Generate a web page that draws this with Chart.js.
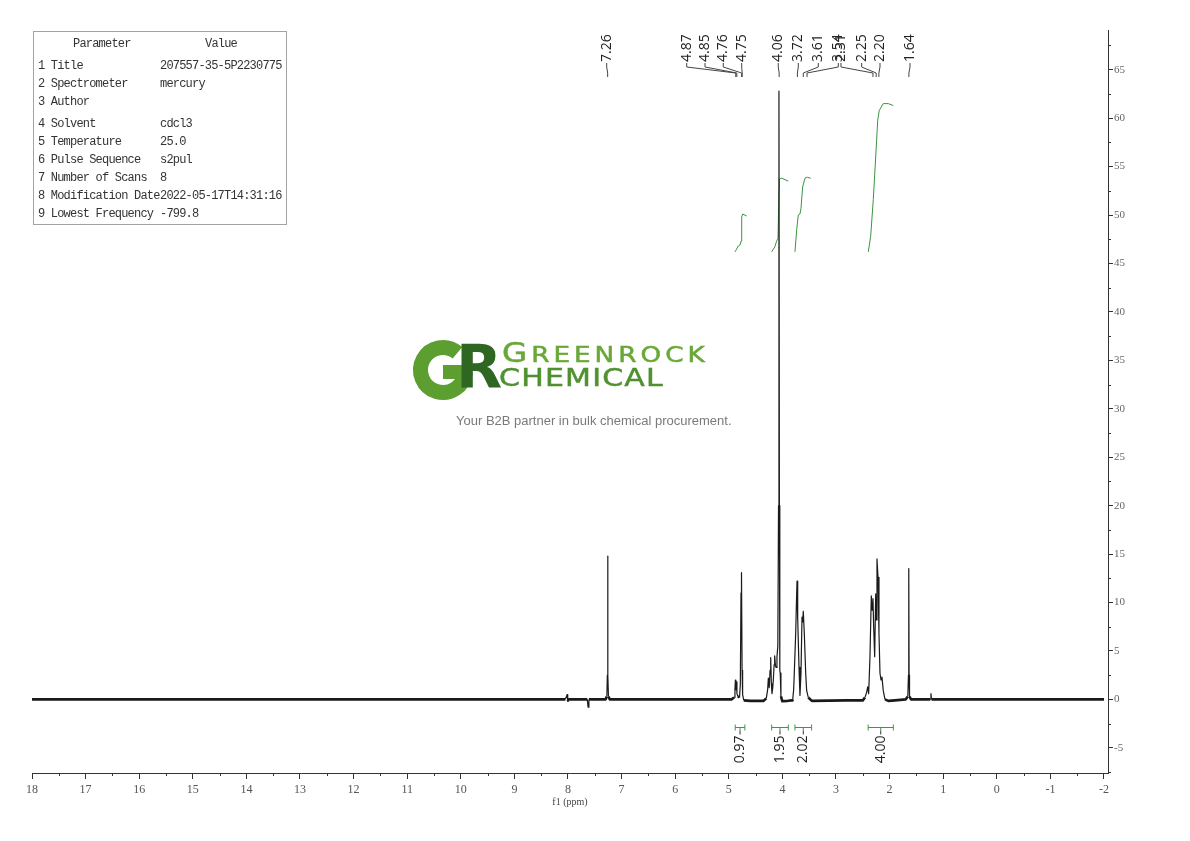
<!DOCTYPE html>
<html>
<head>
<meta charset="utf-8">
<title>1H NMR 207557-35-5</title>
<script src="https://cdn.jsdelivr.net/npm/chart.js@4.4.1/dist/chart.umd.min.js"></script>
<style>
  html, body { margin: 0; padding: 0; background: #fff; }
  #wrap { position: relative; width: 1190px; height: 841px; }
  #c { position: absolute; left: 0; top: 0; }
  #params {
    position: absolute; left: 33px; top: 31px; width: 254px; height: 194px;
    box-sizing: border-box; border: 1px solid #a3a3a3;
    font: 12px "Liberation Mono", monospace; letter-spacing: -0.8px; color: #333;
  }
  #params div { position: absolute; white-space: nowrap; line-height: 14px; }
  #logo { position: absolute; left: 0; top: 0; pointer-events: none; }
  .brand {
    position: absolute; white-space: nowrap; line-height: 1;
    font-family: "DejaVu Sans", sans-serif; transform-origin: 0 0;
    -webkit-text-stroke: 0.5px currentColor;
  }
  #brand1 { left: 502px; top: 340px; font-size: 26px; color: #68a836; letter-spacing: 3.2px; transform: scaleX(1.25); }
  #brand1 span { font-size: 21px; }
  #brand2 { left: 499px; top: 365px; font-size: 25px; color: #4f9030; letter-spacing: 1.0px; transform: scaleX(1.2); }
  #tagline {
    position: absolute; left: 456px; top: 413px; white-space: nowrap;
    font: 13px "Liberation Sans", Arial, sans-serif; color: #7a7a7a;
  }
</style>
</head>
<body>
<div id="wrap">
  <canvas id="c" width="1190" height="841"></canvas>
  <svg id="logo" width="1190" height="841">
    <path d="M 457.5 352.8 A 22.5 22.5 0 1 0 465.4 372" fill="none" stroke="#5c9f30" stroke-width="15"/>
    <rect x="443" y="365" width="27" height="14" fill="#5c9f30"/>
    <text x="456" y="388" font-family="DejaVu Sans" font-weight="bold" font-size="60" fill="#2f6621">R</text>
  </svg>
  <div class="brand" id="brand1">G<span>REENROCK</span></div>
  <div class="brand" id="brand2">CHEMICAL</div>
  <div id="tagline">Your B2B partner in bulk chemical procurement.</div>
  <div id="params"></div>
</div>
<script>
// parameter table
const paramNames = ['1 Title', '2 Spectrometer', '3 Author', '4 Solvent', '5 Temperature',
  '6 Pulse Sequence', '7 Number of Scans', '8 Modification Date', '9 Lowest Frequency'];
const paramValues = ['207557-35-5P2230775', 'mercury', '', 'cdcl3', '25.0',
  's2pul', '8', '2022-05-17T14:31:16', '-799.8'];

// axis tick labels
const xMajor = [18, 17, 16, 15, 14, 13, 12, 11, 10, 9, 8, 7, 6, 5, 4, 3, 2, 1, 0, -1, -2];
const yMajor = [-5, 0, 5, 10, 15, 20, 25, 30, 35, 40, 45, 50, 55, 60, 65];

// spectrum (ppm / intensity)
const ppm = [
  18.00, 8.05, 8.015, 8.005, 7.99, 7.64, 7.625, 7.61,
  7.30, 7.275, 7.266, 7.260, 7.254, 7.245, 7.22,
  4.95, 4.90, 4.885, 4.877, 4.868, 4.858, 4.848, 4.83, 4.80,
  4.785, 4.772, 4.766, 4.760, 4.752, 4.742, 4.72, 4.60,
  4.35, 4.30, 4.275, 4.262, 4.246, 4.230, 4.218, 4.206, 4.194, 4.180, 4.168, 4.154, 4.144,
  4.130, 4.119, 4.101, 4.085, 4.072, 4.064, 4.056, 4.048, 4.040, 4.027, 4.00, 3.90,
  3.82, 3.808, 3.790, 3.778, 3.752, 3.740, 3.727, 3.720, 3.709, 3.690, 3.672,
  3.653, 3.634, 3.622, 3.610, 3.591, 3.565, 3.547, 3.517, 3.45,
  2.80, 2.50, 2.459, 2.427, 2.409, 2.390, 2.366, 2.341, 2.323, 2.310, 2.297, 2.278,
  2.259, 2.248, 2.235, 2.216, 2.198, 2.179, 2.160, 2.142, 2.118, 2.086, 2.024, 1.90,
  1.70, 1.66, 1.648, 1.642, 1.636, 1.628, 1.60,
  1.24, 1.228, 1.218, -2.00
];
const intensity = [
  0, 0, 0.5, -0.2, 0, 0, -0.8, 0,
  0, 0.3, 2.5, 14.8, 2.5, 0.3, 0,
  0, 0.2, 1.0, 2.0, 1.0, 1.8, 0.6, 0.3, 0.2,
  1.5, 11.0, 7.5, 13.1, 3.0, 0.5, -0.1, -0.15,
  -0.15, 0.1, 1.0, 2.2, 1.2, 3.0, 4.3, 1.6, 0.6, 1.2, 2.1, 3.6, 4.5,
  3.5, 3.3, 4.4, 5.5, 20, 62.8, 20, 3.0, 2.7, 0.3, -0.2, -0.15,
  -0.1, -0.05, 1.0, 2.7, 6.8, 9.5, 12.2, 8.2, 8.4, 3.3, 0.4,
  2.7, 8.5, 8.0, 9.1, 6.8, 2.7, 0.9, 0.2, -0.15,
  -0.1, -0.1, 0.2, 0.75, 1.3, 0.6, 4.4, 10.7, 9.2, 10.4, 7.5, 4.4,
  10.9, 8.2, 14.5, 12.6, 6.8, 2.7, 2.0, 2.3, 0.9, 0, -0.15, -0.1,
  0, 0.3, 2.5, 13.5, 2.5, 0.3, 0,
  0, 0.6, 0, 0
];

// integral curves (ppm / curve height)
const int1Ppm = [4.884, 4.822, 4.791, 4.772, 4.759, 4.741, 4.666];
const int1Val = [46.2, 46.8, 46.9, 47.3, 49.8, 50.1, 49.9];
const int2Ppm = [4.200, 4.142, 4.108, 4.082, 4.063, 4.058, 4.013, 3.890];
const int2Val = [46.2, 46.7, 47.3, 47.6, 52.6, 53.7, 53.8, 53.5];
const int3Ppm = [3.765, 3.733, 3.703, 3.672, 3.653, 3.622, 3.578, 3.535, 3.472];
const int3Val = [46.2, 48.5, 50.0, 50.1, 50.7, 52.9, 53.8, 53.9, 53.8];
const int4Ppm = [2.397, 2.353, 2.304, 2.259, 2.221, 2.192, 2.118, 2.024, 1.931];
const int4Val = [46.2, 47.8, 51.6, 56.0, 59.8, 60.8, 61.5, 61.5, 61.3];

// integration ranges and values
const intFrom = [4.88, 4.20, 3.765, 2.40];
const intTo = [4.70, 3.89, 3.455, 1.93];
const intValues = ['0.97', '1.95', '2.02', '4.00'];

// picked peaks
const peakShifts = [7.26, 4.87, 4.85, 4.76, 4.75, 4.06, 3.72, 3.61, 3.54, 2.31, 2.25, 2.20, 1.64];
// where each peak label sits along the axis (layout, in ppm)
const labelAt = [7.278, 5.785, 5.444, 5.103, 4.759, 4.077, 3.703, 3.330, 2.957, 2.907, 2.521, 2.179, 1.619];

// build the parameter box
const box = document.getElementById('params');
function addCell(text, left, top) {
  const d = document.createElement('div');
  d.textContent = text;
  d.style.left = left + 'px';
  d.style.top = top + 'px';
  box.appendChild(d);
}
addCell('Parameter', 39, 5);
addCell('Value', 171, 5);
paramNames.forEach((n, i) => {
  const top = 27 + 18 * i + (i >= 3 ? 4 : 0);
  addCell(n, 4, top);
  addCell(paramValues[i], 126, top);
});

const pts = (xs, ys) => xs.map((v, i) => ({ x: v, y: ys[i] }));

const annotate = {
  id: 'annotate',
  afterDraw(chart) {
    const { ctx, scales: { x, y } } = chart;
    ctx.save();

    // minor ticks
    ctx.strokeStyle = '#333';
    ctx.lineWidth = 1;
    ctx.beginPath();
    for (let i = 0; i < xMajor.length - 1; i++) {
      const px = Math.round(x.getPixelForValue((xMajor[i] + xMajor[i + 1]) / 2)) + 0.5;
      ctx.moveTo(px, x.top);
      ctx.lineTo(px, x.top + 3);
    }
    const yMinor = [yMajor[0] - 2.5, yMajor[yMajor.length - 1] + 2.5];
    for (let i = 0; i < yMajor.length - 1; i++) yMinor.push((yMajor[i] + yMajor[i + 1]) / 2);
    yMinor.forEach(v => {
      if (v <= y.min || v >= y.max) return;
      const py = Math.round(y.getPixelForValue(v)) + 0.5;
      ctx.moveTo(y.left, py);
      ctx.lineTo(y.left + 3, py);
    });
    ctx.stroke();

    // peak labels with connectors
    ctx.font = '14px "Open Sans"';
    ctx.fillStyle = '#222';
    ctx.strokeStyle = '#444';
    ctx.textBaseline = 'middle';
    peakShifts.forEach((s, i) => {
      const lx = x.getPixelForValue(labelAt[i]);
      const px = x.getPixelForValue(s);
      ctx.save();
      ctx.translate(lx, 62);
      ctx.rotate(-Math.PI / 2);
      ctx.textAlign = 'left';
      ctx.fillText(s.toFixed(2), 0, 0);
      ctx.restore();
      ctx.beginPath();
      ctx.moveTo(lx, 63);
      ctx.lineTo(lx, 67);
      ctx.lineTo(px, 73);
      ctx.lineTo(px, 77);
      ctx.stroke();
    });

    // integration brackets and values
    const yb = Math.round(y.getPixelForValue(0)) + 28.5;
    intFrom.forEach((a, i) => {
      const x1 = x.getPixelForValue(a);
      const x2 = x.getPixelForValue(intTo[i]);
      const cx = (x1 + x2) / 2;
      ctx.strokeStyle = '#3c9a3c';
      ctx.beginPath();
      ctx.moveTo(x1, yb - 3); ctx.lineTo(x1, yb + 3);
      ctx.moveTo(x2, yb - 3); ctx.lineTo(x2, yb + 3);
      ctx.moveTo(x1, yb); ctx.lineTo(x2, yb);
      ctx.moveTo(cx, yb); ctx.lineTo(cx, yb + 3);
      ctx.stroke();
      ctx.strokeStyle = '#333';
      ctx.beginPath();
      ctx.moveTo(cx, yb + 3); ctx.lineTo(cx, yb + 7);
      ctx.stroke();
      ctx.save();
      ctx.translate(cx, yb + 8);
      ctx.rotate(-Math.PI / 2);
      ctx.textAlign = 'right';
      ctx.fillStyle = '#222';
      ctx.fillText(intValues[i], 0, 0);
      ctx.restore();
    });

    ctx.restore();
  }
};

const green = '#3a9440';
const intStyle = { borderColor: green, borderWidth: 1, pointRadius: 0, showLine: true, tension: 0 };

new Chart(document.getElementById('c'), {
  type: 'scatter',
  data: {
    datasets: [
      {
        data: pts(ppm, intensity),
        borderColor: '#1a1a1a',
        borderWidth: 1.2,
        borderJoinStyle: 'round',
        pointRadius: 0,
        showLine: true,
        tension: 0,
        segment: {
          borderWidth: c => (Math.abs(c.p0.parsed.y) < 0.35 && Math.abs(c.p1.parsed.y) < 0.35) ? 2.6 : 1.2
        }
      },
      { data: pts(int1Ppm, int1Val), ...intStyle },
      { data: pts(int2Ppm, int2Val), ...intStyle },
      { data: pts(int3Ppm, int3Val), ...intStyle },
      { data: pts(int4Ppm, int4Val), ...intStyle }
    ]
  },
  options: {
    responsive: false,
    animation: false,
    devicePixelRatio: 1,
    layout: { padding: { left: 32, top: 30, right: 0, bottom: 0 } },
    plugins: { legend: { display: false }, tooltip: { enabled: false } },
    scales: {
      x: {
        type: 'linear',
        reverse: true,
        min: -2.075,
        max: 18,
        afterFit: s => { s.height = 68; },
        afterBuildTicks: s => { s.ticks = xMajor.map(v => ({ value: v })); },
        ticks: {
          autoSkip: false, maxRotation: 0, padding: 4, color: '#555',
          font: { family: 'Liberation Serif', size: 12 },
          callback: v => String(v)
        },
        grid: { drawOnChartArea: false, drawTicks: true, tickLength: 6, tickColor: '#333' },
        border: { display: true, color: '#333', width: 1 },
        title: {
          display: true, text: 'f1 (ppm)', color: '#444',
          font: { family: 'Liberation Serif', size: 10 },
          padding: { top: 0, bottom: 33 }
        }
      },
      y: {
        position: 'right',
        min: -7.6,
        max: 69.1,
        afterFit: s => { s.width = 82; },
        afterBuildTicks: s => { s.ticks = yMajor.map(v => ({ value: v })); },
        ticks: {
          autoSkip: false, padding: 1, color: '#666',
          font: { family: 'Liberation Serif', size: 11 },
          callback: v => String(v)
        },
        grid: { drawOnChartArea: false, drawTicks: true, tickLength: 5, tickColor: '#333' },
        border: { display: true, color: '#333', width: 1 }
      }
    }
  },
  plugins: [annotate]
});
</script>
</body>
</html>
